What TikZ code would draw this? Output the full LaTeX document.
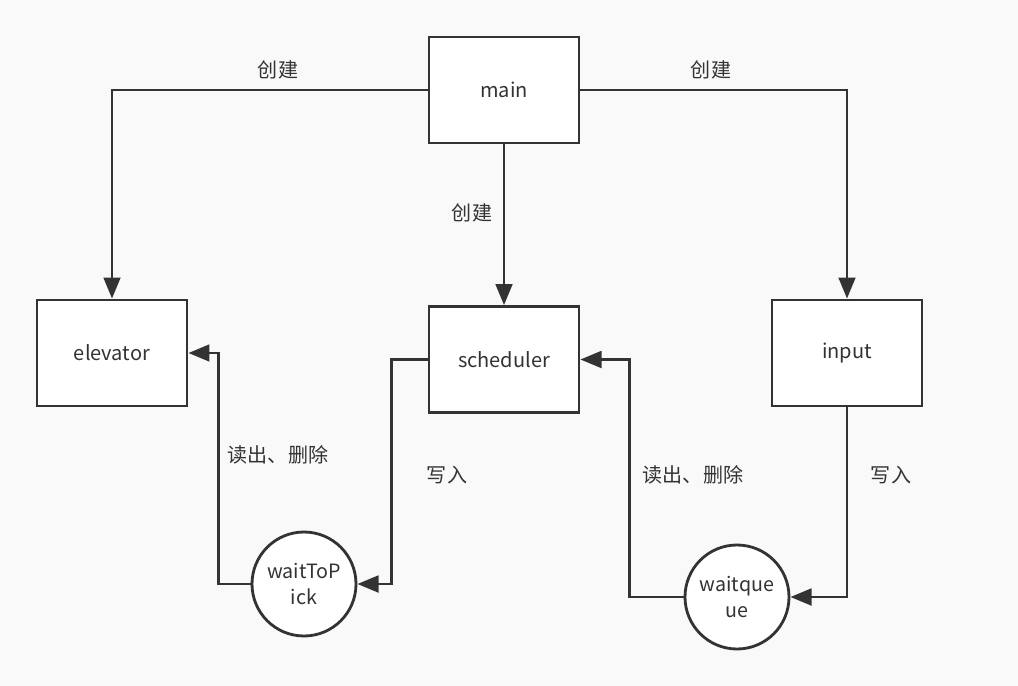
\documentclass[tikz,border=0pt]{standalone}
\usepackage{fontspec}
\setmainfont{Noto Sans CJK SC}
\usepackage{xcolor}
\usetikzlibrary{arrows.meta, positioning}
\definecolor{lineGray}{HTML}{333333}
\definecolor{bgGray}{HTML}{F9F9F9}

\begin{document}
\begin{tikzpicture}[box/.style={draw=lineGray,line width=1.6pt,fill=white,minimum width=3cm,
    minimum height=2.12cm,font=\fontsize{11.4}{14}\selectfont,text=lineGray},
    store/.style={circle,draw=lineGray,line width=1.6pt,fill=white,minimum size=2.08cm,
    inner sep=0pt,align=center,font=\fontsize{11.2}{14.5}\selectfont,text=lineGray},
    arr/.style={-{Triangle[length=12pt,width=9.5pt]},line width=1.6pt,draw=lineGray},
    lbl/.style={font=\fontsize{11.4}{13}\selectfont,text=lineGray}]
    \useasboundingbox[fill=bgGray](0,0)rectangle(20.36,-13.72);
    \node[box](main)at(10.08,-1.80){main};
    \node[box](elevator)at(2.24,-7.06){elevator};
    \node[box](scheduler)at(10.08,-7.19){scheduler};
    \node[box](input)at(16.94,-7.06){input};
    \node[store](waitToPick)at(6.08,-11.68){waitToP\\ick};
    \node[store](waitqueue)at(14.74,-11.94){waitque\\ue};
    \draw[arr](main.west)-|(elevator.north);
    \draw[arr](main.east)-|(input.north);
    \draw[arr](main)--(scheduler);
    \draw[arr](waitToPick.west)--++(-0.64,0)|-(elevator.east);
    \draw[arr](scheduler.west)--++(-0.72,0)|-(waitToPick.east);
    \draw[arr](waitqueue.west)--++(-1.08,0)|-(scheduler.east);
    \draw[arr](input.south)|-(waitqueue.east);
    \node[lbl](l1)at(5.56,-1.40){创建};
    \node[lbl](l2)at(14.22,-1.40){创建};
    \node[lbl](l3)at(9.44,-4.26){创建};
    \node[lbl](l4)at(5.56,-9.10){读出、删除};
    \node[lbl](l5)at(13.86,-9.50){读出、删除};
    \node[lbl](l6)at(8.94,-9.50){写入};
    \node[lbl](l7)at(17.82,-9.50){写入};
\end{tikzpicture}
\end{document}
